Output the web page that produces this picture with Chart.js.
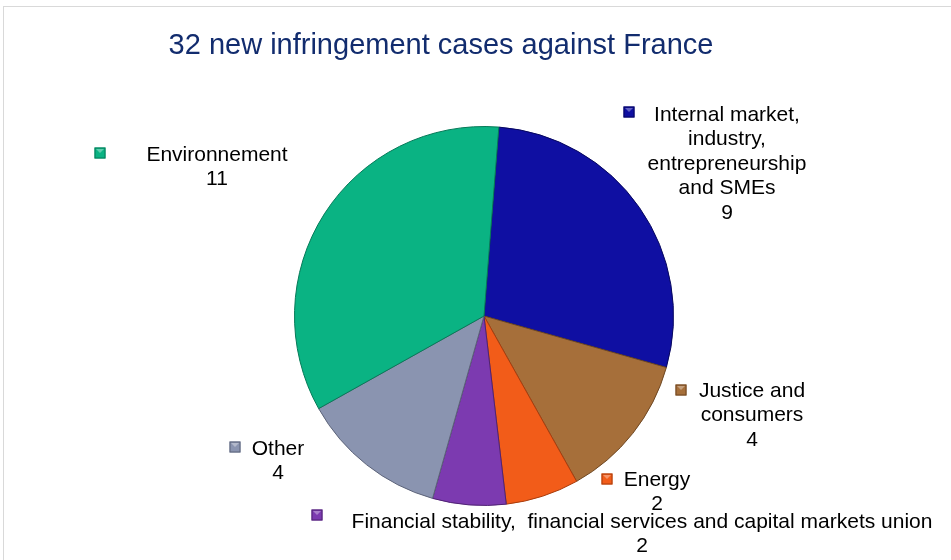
<!DOCTYPE html>
<html>
<head>
<meta charset="utf-8">
<script src="https://cdn.jsdelivr.net/npm/chart.js@4.4.0/dist/chart.umd.min.js"></script>
<style>
  html, body { margin: 0; padding: 0; background: #fff; }
  #wrap { position: relative; width: 951px; height: 560px; }
  #frame { position: absolute; left: 3px; top: 6px; width: 960px; height: 570px; border: 1px solid #d9d9d9; }
  canvas { position: absolute; left: 0; top: 0; }
</style>
</head>
<body>
<div id="wrap">
  <div id="frame"></div>
  <canvas id="pie" width="951" height="560"></canvas>
</div>
<script>
// chart data
var title = "32 new infringement cases against France";
var categories = [
  ["Internal market,", "industry,", "entrepreneurship", "and SMEs"],
  ["Justice and", "consumers"],
  ["Energy"],
  ["Financial stability,  financial services and capital markets union"],
  ["Other"],
  ["Environnement"]
];
var values = [9, 4, 2, 2, 4, 11];
var colors = ["#0f0fa2", "#a66f3a", "#f25c19", "#7c3ab0", "#8a94b0", "#0ab383"];
var borders = ["#07075e", "#6e4722", "#a83c0c", "#4f2273", "#5b6278", "#067a58"];

// where each label block sits: [text centre x, first line y, marker x, marker y]
var labelPos = [
  [727, 115, 629, 112],
  [752, 391, 681, 390],
  [657, 480, 607, 479],
  [642, 522, 317, 515],
  [278, 449, 235, 447],
  [217, 155, 100, 153]
];

var outsideLabels = {
  id: 'outsideLabels',
  afterDraw: function(chart) {
    var ctx = chart.ctx;
    ctx.save();
    ctx.fillStyle = "#122c6e";
    ctx.font = "29px 'Liberation Sans', Arial, sans-serif";
    ctx.textAlign = "center";
    ctx.textBaseline = "middle";
    ctx.fillText(title, 441, 46);

    ctx.font = "21px 'Liberation Sans', Arial, sans-serif";
    for (var i = 0; i < categories.length; i++) {
      var p = labelPos[i];
      var lines = categories[i].concat([String(values[i])]);
      ctx.fillStyle = "#000";
      for (var j = 0; j < lines.length; j++) {
        ctx.fillText(lines[j], p[0], p[1] + j * 24.5);
      }
      // marker
      ctx.fillStyle = colors[i];
      ctx.fillRect(p[2] - 5.5, p[3] - 5.5, 11, 11);
      ctx.strokeStyle = borders[i];
      ctx.lineWidth = 1;
      ctx.strokeRect(p[2] - 5, p[3] - 5, 10, 10);
      ctx.fillStyle = "rgba(255,255,255,0.35)";
      ctx.beginPath();
      ctx.moveTo(p[2] - 4, p[3] - 4);
      ctx.lineTo(p[2] + 4, p[3] - 4);
      ctx.lineTo(p[2], p[3]);
      ctx.closePath();
      ctx.fill();
    }
    ctx.restore();
  }
};

new Chart(document.getElementById("pie").getContext("2d"), {
  type: 'pie',
  data: {
    labels: categories.map(function(c) { return c.join(" "); }),
    datasets: [{
      data: values,
      backgroundColor: colors,
      borderColor: borders,
      borderWidth: 1
    }]
  },
  options: {
    responsive: false,
    animation: false,
    rotation: 4.5,
    layout: { padding: { left: 17, right: 0, top: 126, bottom: 54 } },
    plugins: {
      legend: { display: false },
      tooltip: { enabled: false },
      title: { display: false }
    }
  },
  plugins: [outsideLabels]
});
</script>
</body>
</html>
